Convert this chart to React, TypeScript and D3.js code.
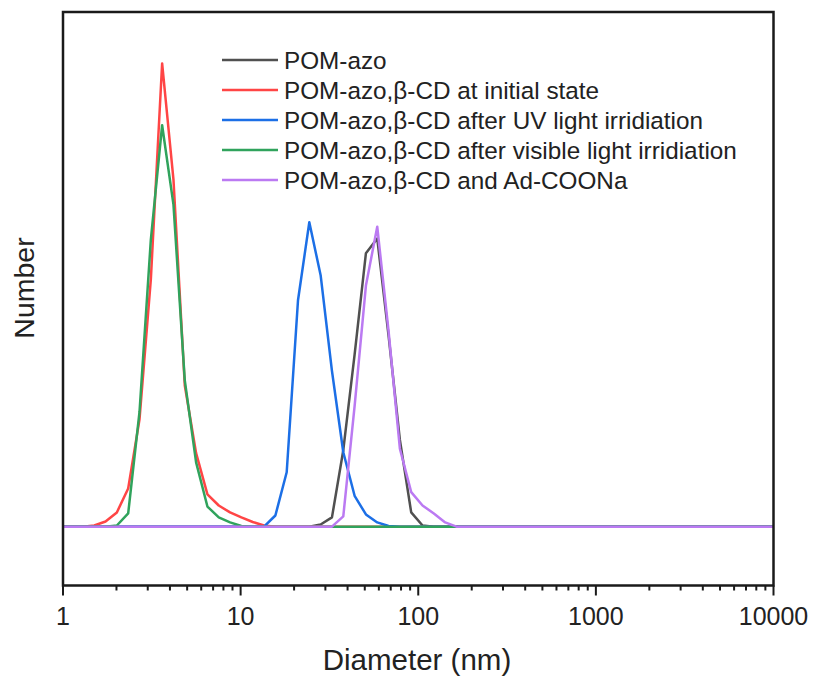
import React from 'react';
import * as d3 from 'd3';

// Zetasizer size bins (nm), index 0 = 0.4 nm
const diameters = [
  0.4, 0.4632, 0.5365, 0.6213, 0.7195, 0.8332, 0.9649, 1.117, 1.294, 1.499,
  1.736, 2.01, 2.328, 2.696, 3.122, 3.615, 4.187, 4.849, 5.615, 6.503,
  7.531, 8.721, 10.1, 11.7, 13.54, 15.69, 18.17, 21.04, 24.36, 28.21,
  32.67, 37.84, 43.82, 50.75, 58.77, 68.06, 78.82, 91.28, 105.7, 122.4,
  141.8, 164.2, 190.1, 220.2, 255.0, 295.3, 342.0, 396.1, 458.7, 531.2,
  615.1, 712.4, 825.0, 955.4, 1106, 1281, 1484, 1718, 1990, 2305,
  2669, 3091, 3580, 4145, 4801, 5560, 6439, 7456, 8635, 10000,
];

// non-zero parts of each distribution, with the bin index where they start
const pomAzoStart = 29;
const pomAzo = [0.15, 0.63, 5.2, 11.7, 18.6, 19.6, 13.0, 5.9, 0.97, 0.08];
const initialStart = 9;
const initialState = [0.08, 0.35, 0.97, 2.6, 7.3, 16.8, 31.5, 23.6, 9.6, 5.0, 2.2, 1.44, 0.97, 0.63, 0.32, 0.08];
const uvStart = 25;
const afterUV = [0.76, 3.7, 15.4, 20.7, 17.1, 10.6, 5.06, 2.1, 0.83, 0.29, 0.05];
const visibleStart = 11;
const afterVisible = [0.08, 0.9, 7.8, 19.5, 27.3, 21.9, 9.95, 4.37, 1.37, 0.63, 0.29, 0.05];
const adStart = 31;
const adCOONa = [0.7, 8.2, 16.4, 20.4, 13.3, 5.3, 2.35, 1.44, 0.9, 0.29];

const seriesNames = [
  'POM-azo',
  'POM-azo,β-CD at initial state',
  'POM-azo,β-CD after UV light irridiation',
  'POM-azo,β-CD after visible light irridiation',
  'POM-azo,β-CD and Ad-COONa',
];
const seriesColors = ['#505050', '#ff4545', '#1c6fe6', '#30a35c', '#bb7af2'];
const xTickLabels = ['1', '10', '100', '1000', '10000'];

const toPoints = (start: number, vals: number[]) =>
  diameters.map((d, i) => ({
    d,
    v: i >= start && i < start + vals.length ? vals[i - start] : 0,
  }));

const series = [
  toPoints(pomAzoStart, pomAzo),
  toPoints(initialStart, initialState),
  toPoints(uvStart, afterUV),
  toPoints(visibleStart, afterVisible),
  toPoints(adStart, adCOONa),
];

const App = () => {
  const width = 815;
  const height = 677;
  const left = 63;
  const right = 773.5;
  const top = 12;
  const bottom = 585.5;
  const font = '"Liberation Sans", Arial, sans-serif';

  const x = d3.scaleLog().domain([1, 10000]).range([left, right]);
  const y = d3.scaleLinear().domain([-4, 35]).range([bottom, top]);

  const line = d3
    .line<{ d: number; v: number }>()
    .x((p) => x(p.d))
    .y((p) => y(p.v));

  const ticks = x.ticks();
  const isMajor = (t: number) => Math.abs(Math.log10(t) - Math.round(Math.log10(t))) < 1e-9;

  return (
    <svg width={width} height={height} style={{ position: 'absolute', left: 0, top: 0, background: '#fff' }}>
      <defs>
        <clipPath id="plot">
          <rect x={left} y={top} width={right - left} height={bottom - top} />
        </clipPath>
      </defs>

      <g clipPath="url(#plot)">
        {series.map((s, i) => (
          <path
            key={i}
            d={line(s) || ''}
            fill="none"
            stroke={seriesColors[i]}
            strokeWidth={2.5}
            strokeLinejoin="round"
          />
        ))}
      </g>

      {/* frame */}
      <rect x={left} y={top} width={right - left} height={bottom - top} fill="none" stroke="#1a1a1a" strokeWidth={2.5} />

      {/* bottom ticks */}
      {ticks.map((t, i) => (
        <line
          key={i}
          x1={x(t)}
          x2={x(t)}
          y1={bottom}
          y2={bottom + (isMajor(t) ? 10 : 5)}
          stroke="#1a1a1a"
          strokeWidth={2}
        />
      ))}
      {xTickLabels.map((lbl) => (
        <text
          key={lbl}
          x={x(+lbl)}
          y={625}
          textAnchor="middle"
          fontFamily={font}
          fontSize={25}
          fill="#222"
        >
          {lbl}
        </text>
      ))}

      <text x={417} y={670} textAnchor="middle" fontFamily={font} fontSize={29.5} fill="#222">
        Diameter (nm)
      </text>
      <text
        transform="translate(34, 288) rotate(-90)"
        textAnchor="middle"
        fontFamily={font}
        fontSize={28.5}
        fill="#222"
      >
        Number
      </text>

      {/* legend */}
      {seriesNames.map((name, i) => {
        const ly = 60 + i * 30;
        return (
          <g key={name}>
            <line x1={222} x2={278} y1={ly} y2={ly} stroke={seriesColors[i]} strokeWidth={2.5} />
            <text x={284} y={ly + 8.5} fontFamily={font} fontSize={24.3} fill="#222">
              {name}
            </text>
          </g>
        );
      })}
    </svg>
  );
};

export default App;
